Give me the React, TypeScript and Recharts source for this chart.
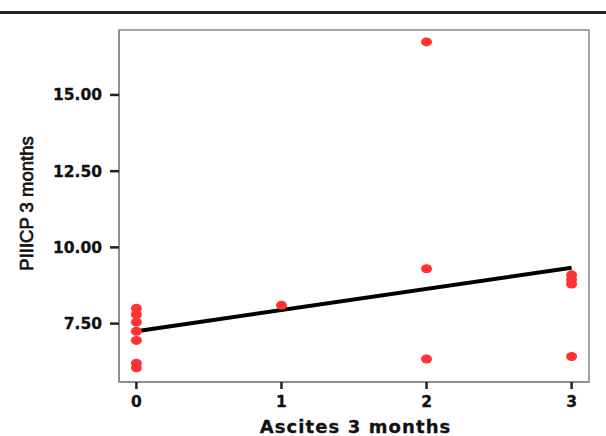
import React from "react";
import { ComposedChart, Scatter, Line, XAxis, YAxis, ReferenceArea, Label } from "recharts";

const asciteGroups = [0, 0, 0, 0, 0, 0, 0, 1, 2, 2, 2, 3, 3, 3, 3];
const piiicpValues = [8.0, 7.8, 7.55, 7.25, 6.95, 6.2, 6.05, 8.1, 16.74, 9.3, 6.34, 9.1, 8.95, 8.8, 6.42];
const fitX = [0, 3];
const fitY = [7.25, 9.33];
const xTicks = [0, 1, 2, 3];
const yTicks = [7.5, 10, 12.5, 15];
const xDomain = [-0.12, 3.12];
const yDomain = [5.585, 17.13];

const points = asciteGroups.map((x, i) => ({ x, y: piiicpValues[i] }));
const fitLine = fitX.map((x, i) => ({ x, y: fitY[i] }));

const Dot = (props: any) => {
  const { cx, cy } = props;
  if (cx == null || cy == null) return null;
  return <ellipse cx={cx} cy={cy} rx={5.5} ry={4.5} fill="#ff3333" />;
};

const tickFont = { fontFamily: "DejaVu Sans", fontWeight: "bold", fontSize: 15.5, fill: "#111", stroke: "#111", strokeWidth: 0.3 };

export default function App() {
  return (
    <div style={{ position: "absolute", left: 0, top: 0, width: 606, height: 436, background: "#fff" }}>
      <div style={{ position: "absolute", left: 0, top: 11, width: 606, height: 2.5, background: "#222" }} />
      <ComposedChart width={606} height={436} margin={{ top: 30, right: 17, bottom: 14, left: 39 }}>
        <XAxis
          type="number"
          dataKey="x"
          domain={xDomain}
          ticks={xTicks}
          allowDataOverflow
          height={40}
          tickSize={7}
          tickMargin={7}
          tick={tickFont}
          tickLine={{ stroke: "#222", strokeWidth: 2.5 }}
          axisLine={{ stroke: "#888", strokeWidth: 1.5 }}
        >
          <Label
            content={() => (
              <text x={355.5} y={433} textAnchor="middle" fontFamily="DejaVu Sans" fontWeight="bold" fontSize={18} letterSpacing={1.1} fill="#111" stroke="#111" strokeWidth={0.3}>
                Ascites 3 months
              </text>
            )}
          />
        </XAxis>
        <YAxis
          type="number"
          dataKey="y"
          domain={yDomain}
          ticks={yTicks}
          allowDataOverflow
          width={80}
          tickSize={9}
          tickMargin={8}
          tickFormatter={(v: number) => v.toFixed(2)}
          tick={tickFont}
          tickLine={{ stroke: "#222", strokeWidth: 2.5 }}
          axisLine={{ stroke: "#888", strokeWidth: 1.5 }}
        >
          <Label
            content={() => (
              <text x={33} y={203.5} transform="rotate(-90, 33, 203.5)" textAnchor="middle" fontFamily="Liberation Sans" fontSize={18.5} fill="#111" stroke="#111" strokeWidth={0.7}>
                PIIICP 3 months
              </text>
            )}
          />
        </YAxis>
        <ReferenceArea x1={xDomain[0]} x2={xDomain[1]} y1={yDomain[0]} y2={yDomain[1]} fill="none" stroke="#888" strokeWidth={1.5} />
        <Line data={fitLine} dataKey="y" stroke="#000" strokeWidth={4} dot={false} isAnimationActive={false} />
        <Scatter data={points} dataKey="y" shape={<Dot />} isAnimationActive={false} />
      </ComposedChart>
    </div>
  );
}
